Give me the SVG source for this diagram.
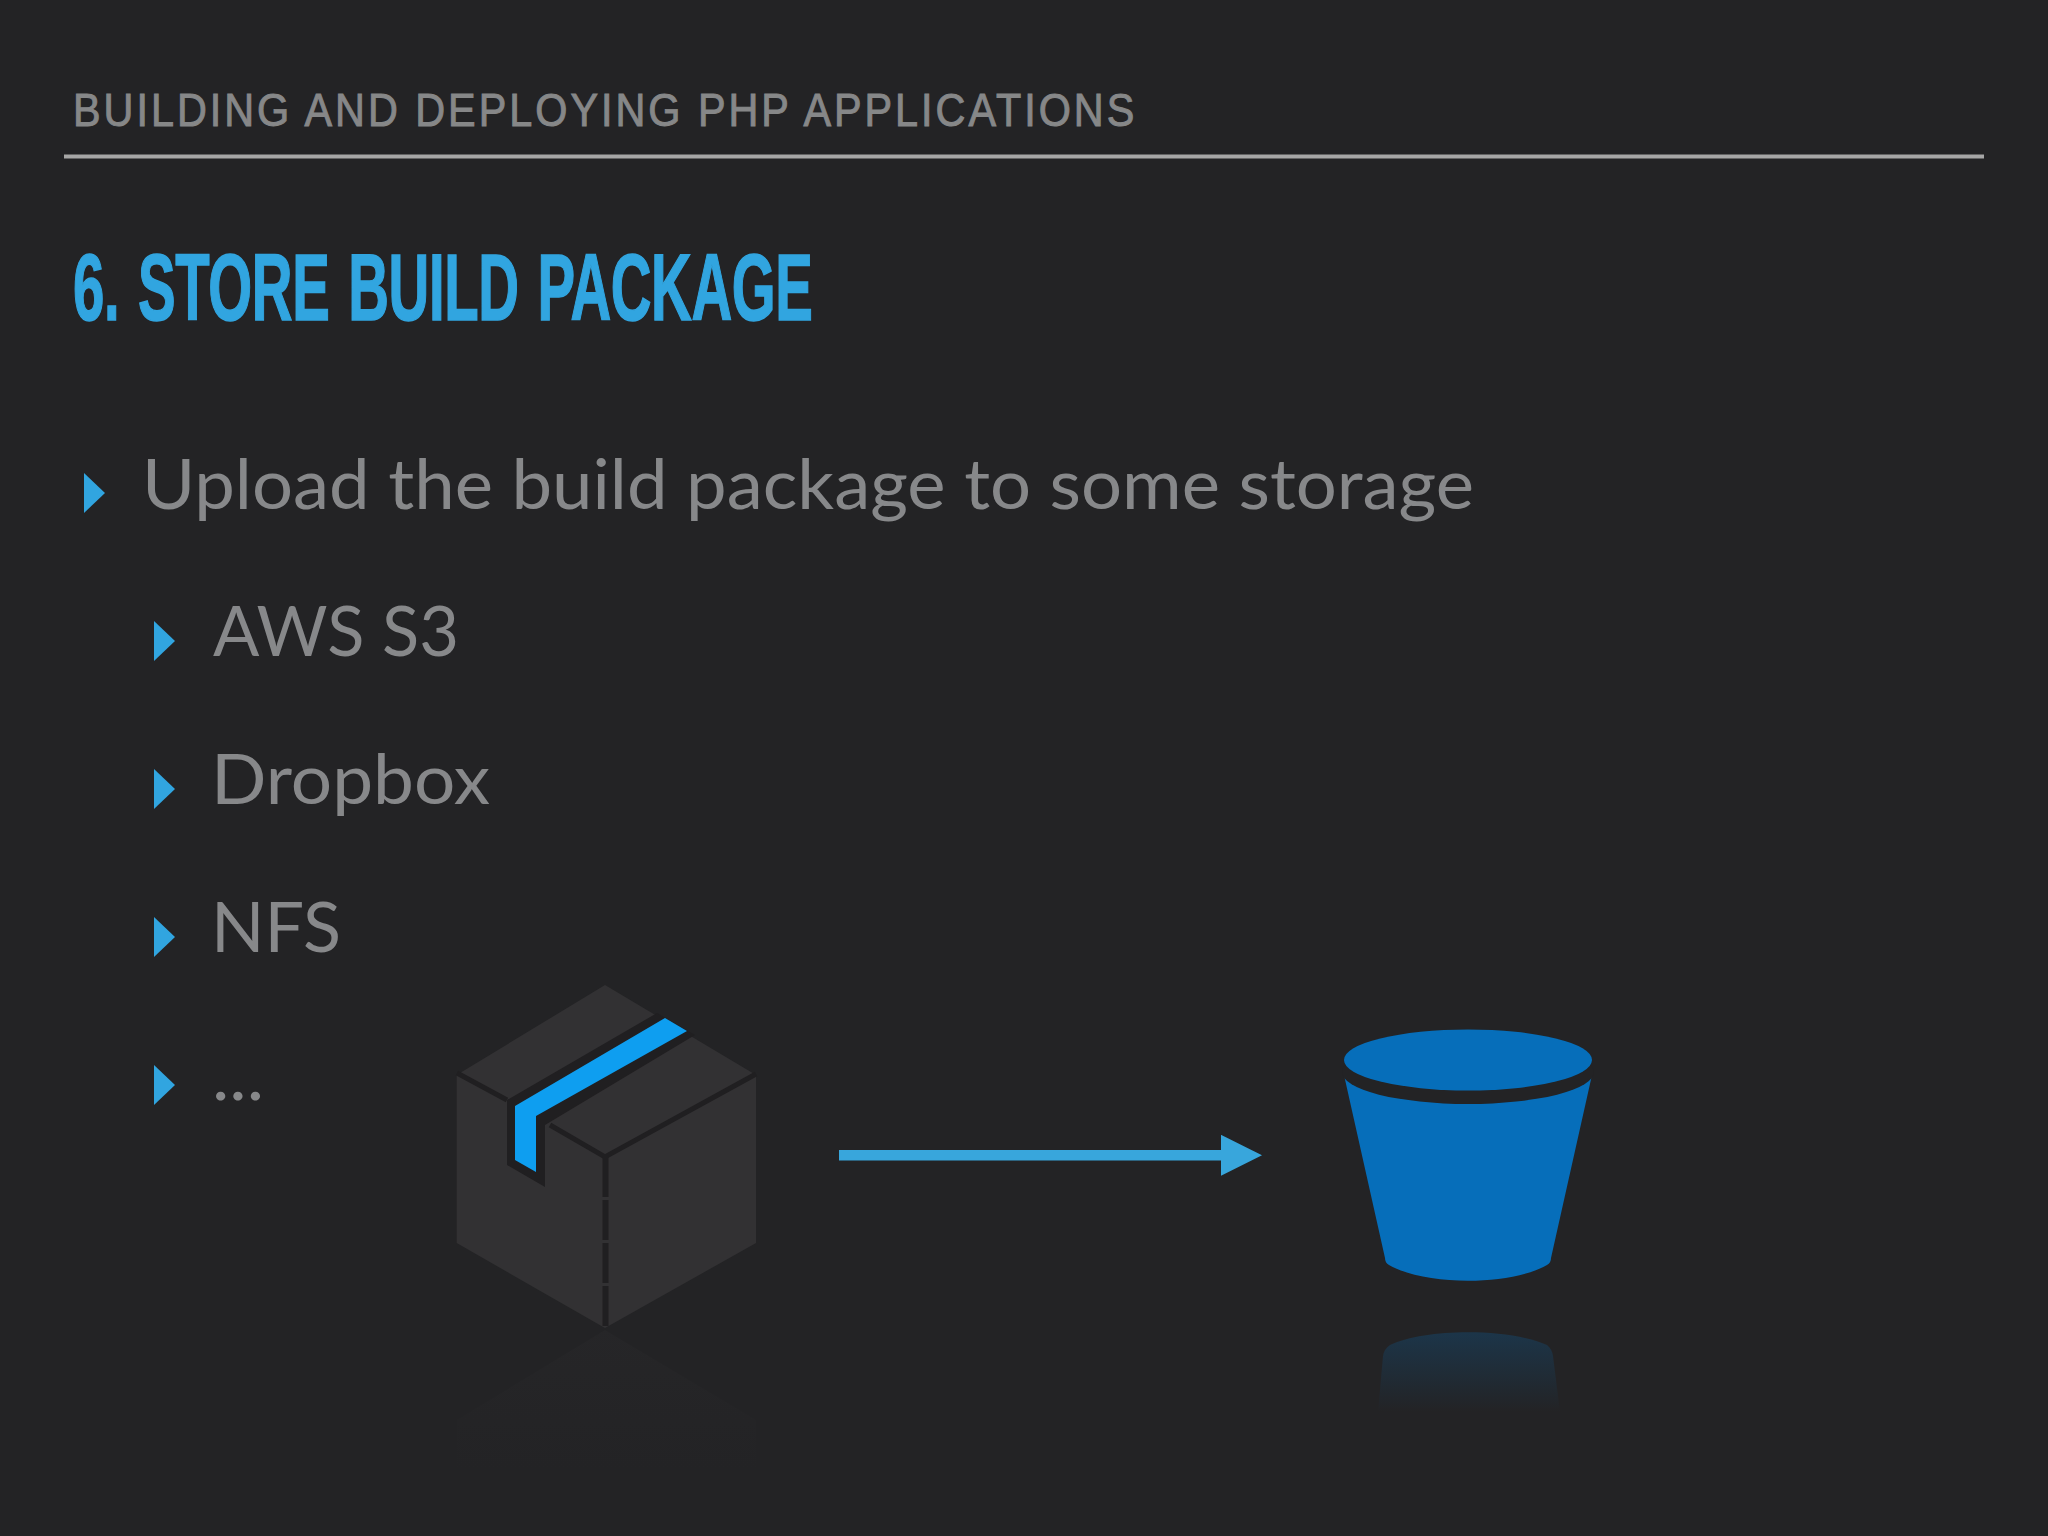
<svg xmlns="http://www.w3.org/2000/svg" width="2048" height="1536" viewBox="0 0 2048 1536">
<style>
.hd{font-family:"Liberation Sans",Arial,sans-serif;font-size:47px;fill:#868788;stroke:#868788;stroke-width:1}
.ti{font-family:"Liberation Sans",Arial,sans-serif;font-weight:700;font-size:94px;fill:#31a5e0;stroke:#31a5e0;stroke-width:1.5;word-spacing:6px}
.bt{font-family:"Lato","Liberation Sans",sans-serif;font-size:69px;fill:#87888a}
.bu{fill:#31a5e0}
.ln{fill:none;stroke:#201f21}
</style>
<defs>
<linearGradient id="rb" gradientUnits="userSpaceOnUse" x1="0" y1="1333" x2="0" y2="1412">
<stop offset="0" stop-color="#066eba" stop-opacity=".24"/><stop offset="1" stop-color="#066eba" stop-opacity="0"/>
</linearGradient>
<linearGradient id="rc" gradientUnits="userSpaceOnUse" x1="0" y1="1330" x2="0" y2="1470">
<stop offset="0" stop-color="#323133" stop-opacity=".2"/><stop offset="1" stop-color="#323133" stop-opacity="0"/>
</linearGradient>
<marker id="ah" markerUnits="userSpaceOnUse" markerWidth="41" markerHeight="41" refX="0" refY="20.500" orient="auto"><path d="M0 0L41 20.500L0 41Z" fill="#38a6dc"/></marker>
</defs>
<rect width="2048" height="1536" fill="#232325"/>
<g id="header">
<text class="hd" transform="translate(73 126) scale(.88 1)" textLength="1206" lengthAdjust="spacing">BUILDING AND DEPLOYING PHP APPLICATIONS</text>
<rect x="64" y="154.500" width="1920" height="4" fill="#a6a6a6"/>
</g>
<text id="title" class="ti" transform="translate(73 320) scale(.6 1)" textLength="1233" lengthAdjust="spacing">6. STORE BUILD PACKAGE</text>
<g id="bullets">
<path class="bu" d="M84 473L105 493L84 513Z"/>
<text class="bt" x="142" y="509" textLength="1332" lengthAdjust="spacingAndGlyphs">Upload the build package to some storage</text>
<path class="bu" d="M154 621L175 641L154 661Z"/>
<text class="bt" x="213" y="656" textLength="246" lengthAdjust="spacingAndGlyphs">AWS S3</text>
<path class="bu" d="M154 769L175 789L154 809Z"/>
<text class="bt" x="211" y="804" textLength="279" lengthAdjust="spacingAndGlyphs">Dropbox</text>
<path class="bu" d="M154 917L175 937L154 957Z"/>
<text class="bt" x="211" y="952" textLength="130" lengthAdjust="spacingAndGlyphs">NFS</text>
<path class="bu" d="M154 1065L175 1085L154 1105Z"/>
<text class="bt" x="212" y="1100" textLength="52" lengthAdjust="spacingAndGlyphs">...</text>
</g>
<g id="package">
<path d="M456.700 1075L605 985L756 1075V1243L605 1328L456.700 1243Z" fill="#323133"/>
<path class="ln" stroke-width="5" d="M457 1073L507 1100M550 1125L605 1157L756 1074"/>
<path class="ln" stroke-width="6" stroke-dasharray="40 3" d="M605.500 1157V1328"/>
<path d="M507 1100L657 1013L695 1035L545 1125V1187L507 1165Z" fill="#201f21"/>
<path d="M515 1106L665 1018L687 1031L536 1116V1172L515 1160Z" fill="#0e9ef0"/>
</g>
<path id="package-reflection" d="M605 1330L756 1420V1470H456.700V1420Z" fill="url(#rc)"/>
<g id="connectors">
<line x1="839" y1="1155.300" x2="1221" y2="1155.300" stroke="#38a6dc" stroke-width="10.500" marker-end="url(#ah)"/>
</g>
<g id="bucket">
<path d="M1344 1075H1592L1551 1258Q1551 1263 1547 1265C1510 1286 1426 1286 1389 1265Q1385 1263 1385 1258Z" fill="#066eba"/>
<ellipse cx="1468" cy="1072" rx="126" ry="32" fill="#232325"/>
<ellipse cx="1468" cy="1060" rx="124" ry="30.500" fill="#066eba"/>
</g>
<path id="bucket-reflection" d="M1383 1356Q1384 1349 1390 1345C1425 1328 1510 1328 1547 1345Q1552 1349 1553 1356L1560 1412H1378Z" fill="url(#rb)"/>
</svg>
